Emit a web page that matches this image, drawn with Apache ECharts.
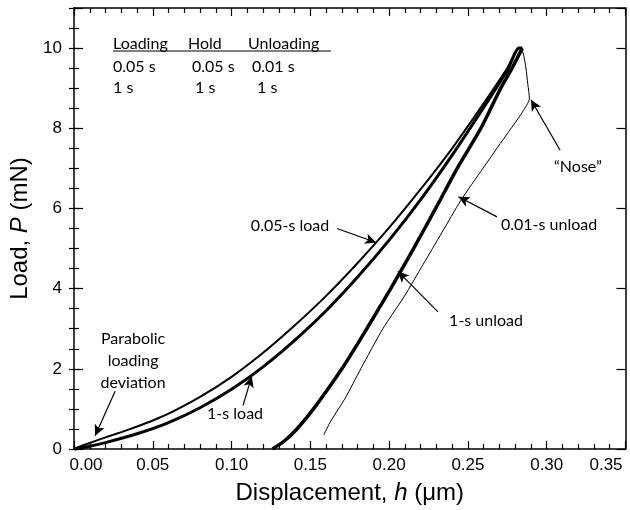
<!DOCTYPE html>
<html>
<head>
<meta charset="utf-8">
<script src="https://cdn.jsdelivr.net/npm/echarts@6/dist/echarts.min.js"></script>
<style>html,body{margin:0;padding:0;background:#fff}#c{width:630px;height:510px}</style>
</head>
<body>
<div id="c"></div>
<script>
// ---- data ----
const xTicks = [0, 0.05, 0.10, 0.15, 0.20, 0.25, 0.30, 0.35];
const yTicks = [0, 2, 4, 6, 8, 10];

// 0.05-s load (upper, thinner loading curve)
const hLoadFast = [0, 0.005, 0.01, 0.02, 0.03, 0.04, 0.05, 0.06, 0.08, 0.10, 0.12, 0.14, 0.16, 0.18, 0.20, 0.22, 0.24, 0.26, 0.275, 0.2825, 0.2835];
const pLoadFast = [0, 0.08, 0.15, 0.29, 0.42, 0.56, 0.71, 0.88, 1.30, 1.80, 2.40, 3.08, 3.82, 4.64, 5.52, 6.48, 7.50, 8.62, 9.50, 10.0, 10.0];

// 1-s load (thick loading curve)
const hLoadSlow = [0, 0.01, 0.02, 0.04, 0.06, 0.08, 0.10, 0.12, 0.14, 0.16, 0.18, 0.20, 0.22, 0.24, 0.26, 0.275, 0.2825, 0.2845];
const pLoadSlow = [0, 0.07, 0.16, 0.38, 0.66, 1.03, 1.49, 2.05, 2.71, 3.45, 4.29, 5.21, 6.22, 7.33, 8.52, 9.45, 10.0, 10.0];

// 1-s unload (thick)
const hUnloadSlow = [0.2845, 0.278, 0.2708, 0.2582, 0.2432, 0.2295, 0.2155, 0.2010, 0.1858, 0.1700, 0.1520, 0.1415, 0.1335, 0.1260];
const pUnloadSlow = [10, 9.5, 9.0, 8.0, 7.0, 6.0, 5.0, 4.0, 3.0, 2.0, 1.0, 0.5, 0.2, 0];

// 0.01-s unload (thin, with "nose")
const hUnloadFast = [0.2840, 0.2855, 0.2868, 0.2880, 0.2890, 0.2845, 0.2738, 0.2595, 0.2455, 0.2335, 0.2215, 0.2095, 0.1960, 0.1820, 0.1720, 0.1630, 0.1585];
const pUnloadFast = [10, 9.8, 9.5, 9.1, 8.75, 8.4, 7.8, 7.0, 6.2, 5.4, 4.6, 3.8, 3.0, 2.0, 1.26, 0.7, 0.35];

// annotation texts (data coords) and arrows (tail -> tip, data coords)
const noteTexts = ['0.05-s load', '0.01-s unload', '1-s unload', '1-s load', 'Parabolic\nloading\ndeviation', '\u201CNose\u201D'];
const noteH = [0.1371, 0.3015, 0.2615, 0.1022, 0.0375, 0.3198];
const noteP = [5.57, 5.59, 3.19, 0.87, 2.20, 7.03];
const arrowTailH = [0.1669, 0.2685, 0.2310, 0.1073, 0.0261, 0.3085];
const arrowTailP = [5.50, 5.79, 3.42, 1.09, 1.44, 7.45];
const arrowTipH  = [0.1917, 0.2440, 0.2056, 0.1128, 0.0134, 0.2900];
const arrowTipP  = [5.15, 6.29, 4.43, 1.81, 0.33, 8.71];

// timing table
const tableHeader = ['Loading', 'Hold', 'Unloading'];
const tableRow1 = ['0.05 s', '0.05 s', '0.01 s'];
const tableRow2 = ['1 s', '1 s', '1 s'];

// ---- build ----
const pairs = (hs, ps) => hs.map((h, i) => [h, ps[i]]);
const TF = "Lato, 'Open Sans', sans-serif";
const AF = "'Liberation Sans', Arial, sans-serif";

const chart = echarts.init(document.getElementById('c'), null, {renderer: 'canvas'});

function lineSeries(name, hs, ps, w) {
  return {
    name, type: 'line', data: pairs(hs, ps), showSymbol: false, symbol: 'none',
    smooth: 0.25, lineStyle: {color: '#000', width: w}, z: 3, silent: true, animation: false
  };
}

const colX = [113, 188, 248];
const colX1 = [113, 192, 252];
const colX2 = [113, 195, 257];
const graphics = [];
tableHeader.forEach((t, i) => graphics.push({type: 'text', style: {text: t, x: colX[i], y: 44, font: '16px ' + TF, fill: '#000', verticalAlign: 'middle'}}));
tableRow1.forEach((t, i) => graphics.push({type: 'text', style: {text: t, x: colX1[i], y: 67, font: '16px ' + TF, fill: '#000', verticalAlign: 'middle'}}));
tableRow2.forEach((t, i) => graphics.push({type: 'text', style: {text: t, x: colX2[i], y: 88, font: '16px ' + TF, fill: '#000', verticalAlign: 'middle'}}));
graphics.push({type: 'line', shape: {x1: 113, y1: 51, x2: 331, y2: 51}, style: {stroke: '#000', lineWidth: 1.2}});

const tickColor = '#000';
const baseAxis = {
  splitLine: {show: false},
  axisLine: {show: true, onZero: false, lineStyle: {color: '#000', width: 1.5}},
};

const option = {
  backgroundColor: '#fff',
  animation: false,
  grid: {left: 74, right: 4.5, top: 8, bottom: 59, containLabel: false},
  graphic: graphics,
  xAxis: [
    Object.assign({}, baseAxis, {
      type: 'value', position: 'bottom', min: 0, max: 0.35, interval: 0.05,
      name: 'Displacement, {i|h} (\u03BCm)', nameLocation: 'middle', nameGap: 32,
      nameTextStyle: {fontFamily: AF, fontSize: 24, color: '#000', rich: {i: {fontStyle: 'italic', fontFamily: AF, fontSize: 24, color: '#000'}}},
      axisTick: {show: true, inside: true, length: 8, lineStyle: {color: tickColor, width: 1.2}},
      minorTick: {show: true, splitNumber: 5, length: 5, lineStyle: {color: tickColor, width: 1.2}},
      axisLabel: {
        margin: 8, fontFamily: AF, fontSize: 17, color: '#000',
        formatter: function (v) {
          if (Math.abs(v) < 1e-9) return '{l|0.00}';
          if (Math.abs(v - 0.35) < 1e-9) return '{r|0.35}';
          return v.toFixed(2);
        },
        rich: {
          l: {padding: [0, 0, 0, 24], fontFamily: AF, fontSize: 17, color: '#000'},
          r: {padding: [0, 39, 0, 0], fontFamily: AF, fontSize: 17, color: '#000'}
        }
      }
    }),
    Object.assign({}, baseAxis, {
      type: 'value', position: 'top', min: 0, max: 0.35, interval: 0.05,
      axisTick: {show: true, inside: true, length: 8, lineStyle: {color: tickColor, width: 1.2}},
      minorTick: {show: true, splitNumber: 5, length: 5, lineStyle: {color: tickColor, width: 1.2}},
      axisLabel: {show: false}
    })
  ],
  yAxis: [
    Object.assign({}, baseAxis, {
      type: 'value', position: 'left', min: 0, max: 11, interval: 2,
      name: 'Load, {i|P} (mN)', nameLocation: 'middle', nameGap: 39, nameRotate: 90,
      nameTextStyle: {fontFamily: AF, fontSize: 24, color: '#000', rich: {i: {fontStyle: 'italic', fontFamily: AF, fontSize: 24, color: '#000'}}},
      axisTick: {show: true, inside: true, length: 9, lineStyle: {color: tickColor, width: 1.2}},
      axisLabel: {margin: 12, fontFamily: AF, fontSize: 17, color: '#000',
        formatter: v => (yTicks.indexOf(v) >= 0 ? String(v) : '')}
    }),
    {
      type: 'value', position: 'left', min: 0, max: 11, interval: 0.5,
      splitLine: {show: false}, axisLine: {show: false},
      axisTick: {show: true, inside: true, length: 5, lineStyle: {color: tickColor, width: 1.2}},
      axisLabel: {show: false}
    },
    Object.assign({}, baseAxis, {
      type: 'value', position: 'right', min: 0, max: 11, interval: 2,
      axisTick: {show: true, inside: true, length: 9, lineStyle: {color: tickColor, width: 1.2}},
      axisLabel: {show: false}
    }),
    {
      type: 'value', position: 'right', min: 0, max: 11, interval: 0.5,
      splitLine: {show: false}, axisLine: {show: false},
      axisTick: {show: true, inside: true, length: 5, lineStyle: {color: tickColor, width: 1.2}},
      axisLabel: {show: false}
    }
  ],
  series: [
    lineSeries('0.05-s load', hLoadFast, pLoadFast, 2),
    lineSeries('1-s load', hLoadSlow, pLoadSlow, 3),
    lineSeries('1-s unload', hUnloadSlow, pUnloadSlow, 3.5),
    lineSeries('0.01-s unload', hUnloadFast, pUnloadFast, 1),
    {
      name: 'notes', type: 'line', data: [[0, 0]], showSymbol: false, symbol: 'none',
      lineStyle: {width: 0}, silent: true, z: 5,
      markLine: {
        silent: true, animation: false, symbol: ['none', 'arrow'], symbolSize: [8, 11],
        lineStyle: {color: '#000', width: 1.2, type: 'solid'}, label: {show: false},
        emphasis: {disabled: true},
        data: arrowTailH.map((h, i) => [{coord: [h, arrowTailP[i]]}, {coord: [arrowTipH[i], arrowTipP[i]]}])
      },
      markPoint: {
        silent: true, animation: false, symbol: 'circle', symbolSize: 1,
        itemStyle: {color: 'rgba(0,0,0,0)'},
        label: {show: true, position: 'inside', color: '#000', fontFamily: TF, fontSize: 16, lineHeight: 22,
          formatter: p => p.data.name},
        data: noteTexts.map((t, i) => ({name: t, coord: [noteH[i], noteP[i]]}))
      }
    }
  ]
};
chart.setOption(option);
</script>
</body>
</html>
